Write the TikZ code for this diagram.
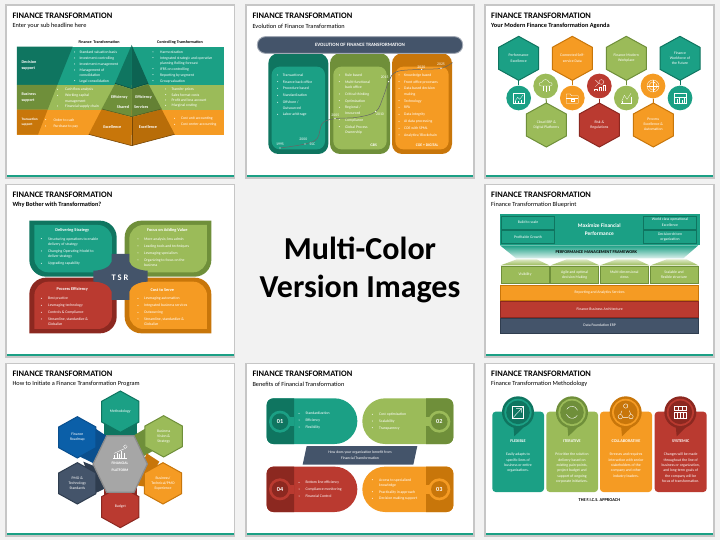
\documentclass[tikz,border=0pt]{standalone}
\usepackage{fontspec}
\setmainfont{Carlito}
\definecolor{tealM}{HTML}{1BA085}
\definecolor{tealD}{HTML}{0F7560}
\definecolor{grnM}{HTML}{9BBB59}
\definecolor{grnD}{HTML}{6F8F3A}
\definecolor{orgM}{HTML}{F59B23}
\definecolor{orgD}{HTML}{C8760A}
\definecolor{redM}{HTML}{BA3A30}
\definecolor{redD}{HTML}{8C2820}
\definecolor{navM}{HTML}{44546A}
\definecolor{navD}{HTML}{2F3D4F}
\definecolor{bluM}{HTML}{0B5FA8}
\definecolor{bluD}{HTML}{0A4F8E}
\definecolor{bgG}{HTML}{F2F2F2}
\newcounter{nn}
\tikzset{
 lbl/.style={text=white,inner sep=0pt,align=center,font=\fontsize{3.8}{5.3}\selectfont},
 bul/.style={text=white,inner sep=0pt,align=left,anchor=north west,yshift=1.8pt,font=\fontsize{3.8}{5.3}\selectfont},
 hdr/.style={lbl,font=\bfseries\fontsize{4.2}{5.6}\selectfont},
 blk/.style={lbl,text=black,font=\bfseries\fontsize{4.4}{5.6}\selectfont},
 ttl/.style={text=black,inner sep=0pt,anchor=west,font=\bfseries\fontsize{8.4}{10}\selectfont},
 sbt/.style={text=black,inner sep=0pt,anchor=west,font=\fontsize{6.3}{8}\selectfont},
 icon/.style={draw=white,line width=0.3pt,fill=none},
 zoomgrid/.style={x=0.33333pt,y=-0.33333pt},
}
\newcommand\Tx[4][]{\stepcounter{nn}\node[lbl,#1] (t\arabic{nn}) at (#2,#3) {#4};}
\newcommand\Bu[4]{\stepcounter{nn}\fill[white] (#1,#3) circle (0.5pt);\node[bul] (b\arabic{nn}) at (#2,#3) {\rule{0pt}{3pt}#4};}
% x0 y0 x1 y1 rTL rTR rBR rBL path-options
\newcommand\rrect[9]{\path[#9] (#1+#5,#2) -- (#3-#6,#2) .. controls (#3-0.45*#6,#2) and (#3,#2+0.45*#6) .. (#3,#2+#6) -- (#3,#4-#7) .. controls (#3,#4-0.45*#7) and (#3-0.45*#7,#4) .. (#3-#7,#4) -- (#1+#8,#4) .. controls (#1+0.45*#8,#4) and (#1,#4-0.45*#8) .. (#1,#4-#8) -- (#1,#2+#5) .. controls (#1,#2+0.45*#5) and (#1+0.45*#5,#2) .. (#1+#5,#2) -- cycle;}
% name cx cy hw hh fill dark
\newcommand\hexa[7]{\draw[fill=#6,draw=#7,line width=1pt,line join=miter] (#2,#3-#5) -- (#2+#4,#3-#5/2) -- (#2+#4,#3+#5/2) -- (#2,#3+#5) -- (#2-#4,#3+#5/2) -- (#2-#4,#3-#5/2) -- cycle;
 \coordinate (#1t) at (#2,#3-#5);\coordinate (#1b) at (#2,#3+#5);}
% panel: l t r b titleX titleY subY title sub
\newcommand\panel[9]{\fill[gray!45] (#1-5,#2-5) rectangle (#3+5,#4+5);\fill[white] (#1,#2) rectangle (#3,#4);\fill[tealM] (#1,#4-6) rectangle (#3,#4);
 \stepcounter{nn}\node[ttl] (h\arabic{nn}) at (#5,#6) {#8};\stepcounter{nn}\node[sbt] (s\arabic{nn}) at (#5,#7) {#9};}
% small circle-number of the benefit pills
\newcommand\numc[5]{\fill[#3] (#1,#2) circle (11pt);\stepcounter{nn}\node[circle,fill=#4,inner sep=0pt,minimum size=16.5pt,text=white,font=\bfseries\fontsize{6.2}{7}\selectfont] (c\arabic{nn}) at (#1,#2) {#5};}
\newcommand\pin[4]{\fill[#3] (#1,#2) circle (16pt);\fill[#3] (#1-14,#2+38) -- (#1+26,#2+36) -- (#1-11,#2+72) -- cycle;\fill[#4] (#1,#2) circle (13.6pt);\fill[#3] (#1,#2) circle (11.8pt);}
\begin{document}
\begin{tikzpicture}[x=1pt,y=-1pt]
\useasboundingbox (0,0) rectangle (720,540);
\fill[bgG] (0,0) rectangle (720,540);

%% ---------- 1
\begin{scope}[shift={(0,0)},zoomgrid]
\panel{21}{18}{701}{531}{37}{48}{78}{FINANCE TRANSFORMATION}{Enter your sub headline here}
\Tx[blk,font=\bfseries\fontsize{4.1}{5}\selectfont]{297}{126}{Finance\ \ Transformation}
\Tx[blk,font=\bfseries\fontsize{4.1}{5}\selectfont]{540}{126}{Controlling Transformation}
\fill[tealM] (51,140) rectangle (672,255);
\fill[grnM] (51,255) rectangle (672,329);
\fill[orgM] (51,329) rectangle (672,404);
\fill[tealD] (51,140) -- (218,140) -- (172,255) -- (51,255) -- cycle;
\fill[grnD] (51,255) -- (172,255) -- (143,329) -- (51,329) -- cycle;
\fill[orgD] (51,329) -- (143,329) -- (114,404) -- (51,404) -- cycle;
% pyramid
\fill[tealD] (395,135) -- (345,250) -- (395,266) -- cycle;
\fill[tealD!85!black] (395,135) -- (445,250) -- (395,266) -- cycle;
\fill[grnD] (345,252) -- (395,268) -- (395,350) -- (305,327) -- cycle;
\fill[grnD!90!black] (445,252) -- (395,268) -- (395,350) -- (485,327) -- cycle;
\fill[orgD] (305,328) -- (395,352) -- (395,437) -- (266,403) -- cycle;
\fill[orgD!92!black] (485,328) -- (395,352) -- (395,437) -- (524,403) -- cycle;
\draw[tealD!60!black,line width=0.5pt] (345,250) -- (395,266) -- (445,250);
\draw[grnD!60!black,line width=0.5pt] (305,327) -- (395,350) -- (485,327);
\draw[orgD!60!black,line width=0.6pt] (266,403) -- (395,437) -- (524,403);
\draw[orgD!60!black,line width=0.3pt] (395,352) -- (395,437);
\Tx[hdr]{358}{293}{Efficiency}\Tx[hdr]{431}{293}{Efficiency}
\Tx[hdr]{369}{321}{Shared}\Tx[hdr]{424}{321}{Services}
\Tx[hdr]{337}{381}{Excellence}\Tx[hdr]{444}{381}{Excellence}
\Tx[hdr,align=left,anchor=west,font=\bfseries\fontsize{4.2}{6}\selectfont]{64}{197}{Decision\\support}
\Tx[hdr,align=left,anchor=west,font=\bfseries\fontsize{4}{5.3}\selectfont]{64}{292}{Business\\support}
\Tx[hdr,align=left,anchor=west,font=\bfseries\fontsize{3.4}{4.8}\selectfont]{64}{367}{Transaction\\support}
\Bu{224}{238}{156}{Standard valuation basis}
\Bu{224}{238}{174}{Investment controlling}
\Bu{224}{238}{192}{Investment management}
\Bu{224}{238}{210}{Management of\\consolidation}
\Bu{224}{238}{242}{Legal consolidation}
\Bu{459}{480}{156}{Harmonization}
\Bu{459}{480}{173}{Integrated strategic and operative\\planning Rolling forecast}
\Bu{459}{480}{206}{IFRS on controlling}
\Bu{459}{480}{224}{Reporting by segment}
\Bu{459}{480}{242}{Group valuation}
\Bu{173}{195}{268}{Cash flow analysis}
\Bu{173}{195}{286}{Working capital\\management}
\Bu{173}{195}{318}{Financial supply chain}
\Bu{497}{514}{267}{Transfer prices}
\Bu{497}{514}{284}{Sales format costs}
\Bu{497}{514}{300}{Profit and loss account}
\Bu{497}{514}{316}{Marginal costing}
\Bu{137}{160}{359}{Order to cash}
\Bu{137}{160}{378}{Purchase to pay}
\Bu{524}{543}{355}{Cost unit accounting}
\Bu{524}{543}{373}{Cost center accounting}
\end{scope}

%% ---------- 2
\begin{scope}[shift={(240,0)},zoomgrid]
\panel{21}{18}{700}{531}{37}{48}{78}{FINANCE TRANSFORMATION}{Evolution of Finance Transformation}
\rrect{85}{160}{265}{462}{30}{30}{30}{30}{fill=tealD}
\rrect{270}{160}{450}{462}{30}{30}{30}{30}{fill=grnD}
\rrect{456}{160}{636}{462}{30}{30}{30}{30}{fill=orgD}
\rrect{95}{200}{255}{448}{24}{24}{24}{24}{fill=tealM}
\rrect{280}{200}{440}{448}{24}{24}{24}{24}{fill=grnM}
\rrect{466}{200}{626}{448}{24}{24}{24}{24}{fill=orgM}
\rrect{52}{110}{668}{160}{24}{24}{24}{24}{fill=navM,draw=navM!50!white,line width=0.9pt}
\Tx[hdr,font=\bfseries\fontsize{4.9}{6}\selectfont]{360}{135}{EVOLUTION OF FINANCE TRANSFORMATION}
\Bu{113}{128}{225}{Transactional}
\Bu{113}{128}{245}{Finance back office}
\Bu{113}{128}{265}{Procedure based}
\Bu{113}{128}{286}{Standardization}
\Bu{113}{128}{307}{Offshore /\\Outsourced}
\Bu{113}{128}{343}{Labor arbitrage}
\Bu{298}{315}{225}{Rule based}
\Bu{298}{315}{245}{Multi-functional\\back office}
\Bu{298}{315}{282}{Critical thinking}
\Bu{298}{315}{302}{Optimization}
\Bu{298}{315}{322}{Regional /\\Insourced}
\Bu{298}{315}{359}{Compliance}
\Bu{298}{315}{380}{Global Process\\Ownership}
\Bu{477}{492}{225}{Knowledge based}
\Bu{477}{492}{245}{Front office processes}
\Bu{477}{492}{265}{Data based decision\\making}
\Bu{477}{492}{302}{Technology}
\Bu{477}{492}{322}{RPA}
\Bu{477}{492}{343}{Data integrity}
\Bu{477}{492}{364}{AI data processing}
\Bu{477}{492}{385}{COE with SPML}
\Bu{477}{492}{405}{Analytics/ Blockchain}
\draw[gray!80!black,line width=0.5pt] plot[smooth,tension=0.6] coordinates {(120,444) (195,432) (232,415) (247,370) (285,356) (350,352) (407,335) (430,290) (446,245) (470,215) (545,208) (603,205) (638,188)};
\foreach \px/\py in {120/444,195/432,285/356,407/335,446/245,545/208,603/205}{\fill[white] (\px,\py) circle (0.7pt);}
\Tx{120}{434}{1995}\Tx{190}{419}{2000}\Tx{217}{432}{SSC}\Tx{286}{346}{2005}\Tx{420}{343}{2010}\Tx{434}{231}{2015}\Tx{544}{201}{2020}\Tx{603}{193}{2025}
\Tx[font=\bfseries\fontsize{3.8}{5}\selectfont]{401}{435}{GBS}
\Tx[font=\bfseries\fontsize{3.8}{5}\selectfont]{561}{435}{COE + DIGITAL}
\end{scope}

%% ---------- 3
\begin{scope}[shift={(480,0)},zoomgrid]
\panel{17}{18}{700}{531}{33}{48}{78}{FINANCE TRANSFORMATION}{\bfseries Your Modern Finance Transformation Agenda}
\hexa{ha}{116}{175}{60}{66}{tealM}{tealD}
\hexa{hb}{277}{175}{60}{66}{orgM}{orgD}
\hexa{hc}{439}{175}{60}{66}{grnM}{grnD}
\hexa{hd}{600}{175}{60}{66}{tealM}{tealD}
\hexa{he}{199}{375}{60}{66}{grnM}{grnD}
\hexa{hf}{358}{375}{60}{66}{redM}{redD}
\hexa{hg}{520}{375}{60}{66}{orgM}{orgD}
\tikzset{cir/.style={circle,inner sep=0pt,minimum size=24.7pt,fill=#1}}
\node[cir=tealM] (ca) at (116,294) {};
\node[cir=orgM] (cb) at (277,294) {};
\node[cir=grnM] (cc) at (439,294) {};
\node[cir=tealM] (cd) at (600,294) {};
\node[cir=grnM] (ce) at (197,258) {};
\node[cir=redM] (cf) at (358,258) {};
\node[cir=orgM] (cg) at (519,258) {};
\draw[tealD,line width=1pt] (hab) -- (ca);
\draw[orgD,line width=1pt] (hbb) -- (cb);
\draw[grnD,line width=1pt] (hcb) -- (cc);
\draw[tealD,line width=1pt] (hdb) -- (cd);
\draw[grnD,line width=1pt] (het) -- (ce);
\draw[redD,line width=1pt] (hft) -- (cf);
\draw[orgD,line width=1pt] (hgt) -- (cg);
\Tx{116}{175}{Performance\\Excellence}
\Tx{277}{175}{Connected Self-\\service Data}
\Tx{439}{175}{Finance Modern\\Workplace}
\Tx{600}{175}{Finance\\Workforce of\\the Future}
\Tx{199}{375}{Cloud ERP \&\\Digital Platforms}
\Tx{358}{375}{Risk \&\\Regulations}
\Tx{520}{373}{Process\\Excellence \&\\Automation}
\begin{scope}[shift={(116,294)},icon]
\draw[icon] (-16,-14) rectangle (16,16);\draw[icon] (-11,9) -- (-3,-2) -- (3,4) -- (13,-9);\draw[icon] (-10,16) -- (-10,10) (-2,16) -- (-2,8) (6,16) -- (6,6);
\end{scope}
\begin{scope}[shift={(197,256)}]
\draw[icon] (-13,2) .. controls (-23,2) and (-21,-11) .. (-11,-9) .. controls (-9,-20) and (8,-20) .. (10,-9) .. controls (21,-11) and (23,2) .. (13,2) -- cycle;
\draw[icon] (-9,2) -- (-9,16) (0,2) -- (0,20) (9,2) -- (9,16);
\end{scope}
\begin{scope}[shift={(277,294)}]
\draw[icon] (-18,-12) -- (-6,-12) -- (-3,-7) -- (18,-7) -- (18,16) -- (-18,16) -- cycle;\draw[icon] (-18,-1) -- (18,-1);\draw[icon] (-5,3) rectangle (5,9);
\end{scope}
\begin{scope}[shift={(358,258)}]
\draw[icon] (-16,16) -- (-16,8) -- (-8,8) -- (-8,16) (-2,16) -- (-2,2) -- (6,2) -- (6,16) (10,16) -- (10,-4) -- (16,-4) -- (16,16);
\draw[icon] (-12,-18) -- (-2,-8) -- (-12,2);\draw[icon] (6,-12) circle (2.4pt);
\end{scope}
\begin{scope}[shift={(439,294)}]
\draw[icon] (-16,16) -- (18,16);\draw[icon] (-14,10) -- (-6,-8) -- (2,4) -- (14,-14);\draw[icon] (-14,10) -- (-14,16) (14,-4) -- (14,16);
\end{scope}
\begin{scope}[shift={(519,258)}]
\draw[icon] (0,0) circle (6pt);\draw[icon,dash pattern=on 0.7pt off 0.7pt,line width=0.7pt] (0,0) circle (4pt);\draw[icon] (-17,0) -- (17,0) (0,-17) -- (0,17);
\end{scope}
\begin{scope}[shift={(600,294)}]
\draw[icon] (-17,-14) rectangle (17,16);\draw[icon] (-17,-4) -- (17,-4);\draw[icon] (-9,16) -- (-9,3) (-2,16) -- (-2,-1) (5,16) -- (5,5) (11,16) -- (11,-1);
\end{scope}
\end{scope}

%% ---------- 4
\begin{scope}[shift={(0,180)},zoomgrid]
\panel{21}{16}{701}{528}{37}{45}{75}{FINANCE TRANSFORMATION}{\bfseries Why Bother with Transformation?}
\rrect{88}{122}{350}{290}{0}{50}{0}{50}{fill=tealD}
\rrect{103}{135}{336}{277}{0}{42}{0}{42}{fill=tealM}
\rrect{374}{122}{634}{290}{50}{0}{50}{0}{fill=grnD}
\rrect{388}{135}{621}{277}{42}{0}{42}{0}{fill=grnM}
\rrect{88}{293}{350}{460}{50}{0}{50}{0}{fill=redD}
\rrect{103}{305}{336}{447}{42}{0}{42}{0}{fill=redM}
\rrect{374}{293}{634}{460}{0}{50}{0}{50}{fill=orgD}
\rrect{388}{305}{621}{447}{0}{42}{0}{42}{fill=orgM}
\fill[navM] (335,222) -- (388,222) -- (388,245) .. controls (392,262) and (420,272) .. (443,272) -- (443,305) .. controls (420,305) and (392,315) .. (388,335) -- (388,360) -- (335,360) -- (335,335) .. controls (330,315) and (305,305) .. (280,305) -- (280,272) .. controls (305,272) and (330,262) .. (335,245) -- cycle;
\Tx[font=\bfseries\fontsize{8.5}{10}\selectfont]{360}{292}{T S R}
\Tx[hdr,font=\bfseries\fontsize{4.3}{5}\selectfont]{217}{151}{Delivering Strategy}
\Bu{124}{144}{176}{Structuring operations to enable\\delivery of strategy}
\Bu{124}{144}{213}{Changing Operating Model to\\deliver strategy}
\Bu{124}{144}{250}{Upgrading capability}
\Tx[hdr,font=\bfseries\fontsize{4.3}{5}\selectfont]{502}{151}{Focus on Adding Value}
\Bu{414}{432}{177}{More analysis; less admin}
\Bu{414}{432}{198}{Leading tools and techniques}
\Bu{414}{432}{219}{Leveraging specialism}
\Bu{414}{432}{240}{Organizing to focus on the\\business}
\Tx[hdr,font=\bfseries\fontsize{4.3}{5}\selectfont]{217}{329}{Process Efficiency}
\Bu{124}{144}{355}{Best practice}
\Bu{124}{144}{376}{Leveraging technology}
\Bu{124}{144}{397}{Controls \& Compliance}
\Bu{124}{144}{417}{Streamline, standardize \&\\Globalize}
\Tx[hdr,font=\bfseries\fontsize{4.3}{5}\selectfont]{487}{329}{Cost to Serve}
\Bu{414}{432}{355}{Leveraging automation}
\Bu{414}{432}{376}{Integrated business services}
\Bu{414}{432}{397}{Outsourcing}
\Bu{414}{432}{417}{Streamline, standardize \&\\Globalize}
\end{scope}

%% ---------- center
\node[inner sep=0pt,text=black,font=\bfseries\fontsize{32}{38}\selectfont,align=center] (bigtext) at (360,270) {Multi-Color\\Version Images};

%% ---------- 6
\begin{scope}[shift={(480,180)},zoomgrid]
\panel{17}{16}{700}{528}{33}{45}{75}{FINANCE TRANSFORMATION}{Finance Transformation Blueprint}
\fill[tealM] (60,102) rectangle (660,194);
\tikzset{tbox/.style={fill=tealM,draw=tealD,line width=0.9pt}}
\draw[tbox] (65,108) rectangle (224,147);\draw[tbox] (65,152) rectangle (224,191);
\draw[tbox] (490,108) rectangle (650,147);\draw[tbox] (490,152) rectangle (650,191);
\Tx{144}{127}{Build to scale}\Tx{144}{171}{Profitable Growth}
\Tx{570}{127}{World class operational\\Excellence}\Tx{570}{171}{Decision-driven\\organization}
\Tx[font=\bfseries\fontsize{5.4}{8}\selectfont]{358}{149}{Maximize Financial\\Performance}
\shade[top color=tealM,bottom color=tealM!15!white] (60,196) -- (655,196) -- (610,235) -- (108,235) -- cycle;
\Tx[blk,font=\bfseries\fontsize{4.3}{5}\selectfont]{349}{216}{PERFORMANCE MANAGEMENT FRAMEWORK}
\foreach \xa/\xb/\xc/\xd in {62/110/170/208,212/260/320/358,360/410/470/508,512/560/620/655}{\shade[top color=grnM!35!white,bottom color=grnM] (\xa,256) -- (\xb,238) -- (\xc,238) -- (\xd,256) -- cycle;}
\tikzset{gbox/.style={fill=grnM,draw=grnD,line width=0.9pt}}
\draw[gbox] (63,258) rectangle (207,311);\draw[gbox] (212,258) rectangle (356,311);\draw[gbox] (360,258) rectangle (506,311);\draw[gbox] (511,258) rectangle (654,311);
\Tx{135}{284}{Visibility}\Tx{284}{284}{Agile and optimal\\decision Making}\Tx{433}{284}{Multi-dimensional\\views}\Tx{582}{284}{Scalable and\\flexible structure}
\draw[fill=orgM,draw=orgD,line width=0.9pt] (62,316) rectangle (656,360);
\draw[fill=redM,draw=redD,line width=0.9pt] (62,364) rectangle (656,411);
\draw[fill=navM,draw=navD,line width=0.9pt] (62,415) rectangle (656,461);
\Tx{359}{338}{Reporting and Analytics Services}
\Tx{359}{387}{Finance Business Architecture}
\Tx{359}{437}{Data Foundation ERP}
\end{scope}

%% ---------- 7
\begin{scope}[shift={(0,360)},zoomgrid]
\panel{21}{13}{701}{525}{37}{42}{72}{FINANCE TRANSFORMATION}{How to Initiate a Finance Transformation Program}
\fill[tealD] (312,190) rectangle (410,240);
\fill[grnD] (402,226) -- (437,205) -- (472,265) -- (425,292) -- cycle;
\fill[orgD] (440,280) -- (478,305) -- (436,380) -- (403,375) -- cycle;
\fill[redD] (312,375) rectangle (410,412);
\fill[navD] (250,305) -- (282,318) -- (322,382) -- (285,400) -- cycle;
\fill[bluD] (285,205) -- (320,228) -- (285,312) -- (240,290) -- cycle;
\hexa{m1}{361}{155}{56}{62}{tealM}{tealD}
\hexa{m2}{491}{229}{56}{62}{grnM}{grnD}
\hexa{m3}{489}{370}{56}{62}{orgM}{orgD}
\hexa{m4}{361}{441}{56}{62}{redM}{redD}
\hexa{m5}{232}{370}{56}{62}{navM}{navD}
\hexa{m6}{232}{232}{56}{62}{bluM}{bluD}
\draw[fill=gray!70,draw=gray!90,line width=1.2pt,line join=miter] (279,312) -- (320,227) -- (402,227) -- (442,312) -- (402,397) -- (320,397) -- cycle;
\Tx{361}{155}{Methodology}
\Tx{491}{229}{Business\\Vision \&\\Strategy}
\Tx{489}{370}{Business/\\Technical/PMO\\Experience}
\Tx{361}{441}{Budget}
\Tx{232}{370}{PMO \&\\Technology\\Standards}
\Tx{232}{232}{Finance\\Roadmap}
\Tx[hdr,font=\bfseries\fontsize{3.7}{7}\selectfont]{360}{320}{FINANCIAL\\PLATFORM}
\begin{scope}[shift={(360,280)}]
\draw[icon,line width=0.4pt] (-20,14) -- (20,14) (-16,14) -- (-16,4) (-9,14) -- (-9,-2) (-2,14) -- (-2,3) (5,14) -- (5,-6) (12,14) -- (12,-2);
\draw[icon,line width=0.4pt] (-18,0) -- (-4,-6) -- (4,-10) -- (14,-14);
\draw[icon] (16,-20) circle (1.8pt);
\end{scope}
\end{scope}

%% ---------- 8
\begin{scope}[shift={(240,360)},zoomgrid]
\panel{21}{13}{700}{525}{37}{42}{72}{FINANCE TRANSFORMATION}{Benefits of Financial Transformation}
\rrect{80}{115}{352}{252}{20}{68}{68}{20}{fill=tealM}
\rrect{80}{115}{162}{252}{20}{0}{0}{20}{fill=tealD}
\fill[tealM] (120,172) rectangle (162,198);
\numc{120}{185}{tealM}{tealD}{01}
\rrect{367}{115}{640}{252}{68}{20}{20}{68}{fill=grnM}
\rrect{558}{115}{640}{252}{0}{20}{20}{0}{fill=grnD}
\fill[grnM] (558,172) rectangle (598,198);
\numc{598}{185}{grnM}{grnD}{02}
\rrect{80}{320}{352}{456}{20}{68}{68}{20}{fill=redM}
\rrect{80}{320}{162}{456}{20}{0}{0}{20}{fill=redD}
\fill[redM] (120,375) rectangle (162,401);
\numc{120}{388}{redM}{redD}{04}
\rrect{367}{320}{640}{456}{68}{20}{20}{68}{fill=orgM}
\rrect{558}{320}{640}{456}{0}{20}{20}{0}{fill=orgD}
\fill[orgM] (558,375) rectangle (598,401);
\numc{598}{388}{orgM}{orgD}{03}
\fill[navM] (200,258) -- (532,258) -- (520,314) -- (188,314) -- cycle;
\Tx[font=\fontsize{3.8}{5.4}\selectfont]{360}{286}{How does your organization benefit from\\Financial Transformation}
\Bu{177}{196}{160}{Standardization}
\Bu{177}{196}{180}{Efficiency}
\Bu{177}{196}{201}{Flexibility}
\Bu{397}{417}{163}{Cost optimization}
\Bu{397}{417}{183}{Scalability}
\Bu{397}{417}{203}{Transparency}
\Bu{177}{196}{367}{Bottom line efficiency}
\Bu{177}{196}{387}{Compliance monitoring}
\Bu{177}{196}{408}{Financial Control}
\Bu{397}{417}{359}{Access to specialized\\knowledge}
\Bu{397}{417}{395}{Practicality in approach}
\Bu{397}{417}{415}{Decision making support}
\end{scope}

%% ---------- 9
\begin{scope}[shift={(480,360)},zoomgrid]
\panel{17}{13}{700}{525}{33}{42}{72}{FINANCE TRANSFORMATION}{Finance Transformation Methodology}
\rrect{37}{155}{192}{396}{10}{10}{10}{10}{fill=tealM}
\rrect{199}{155}{354}{396}{10}{10}{10}{10}{fill=grnM}
\rrect{360}{155}{516}{396}{10}{10}{10}{10}{fill=orgM}
\rrect{524}{155}{680}{396}{10}{10}{10}{10}{fill=redM}
\pin{114}{157}{tealD}{tealM}
\pin{276}{157}{grnD}{grnM}
\pin{437}{157}{orgD}{orgM}
\pin{601}{157}{redD}{redM}
\draw[icon,line width=0.4pt] (98,140) rectangle (130,174);\draw[icon,line width=0.4pt] (98,174) -- (130,140) (108,146) -- (124,146) -- (124,158);
\draw[icon,line width=0.4pt] (260.4,148) arc (150:20:6pt);
\draw[icon,line width=0.4pt] (291.6,166) arc (-30:-160:6pt);
\draw[icon,line width=0.4pt] (437,138) circle (2.2pt) (421,170) circle (2.2pt) (453,170) circle (2.2pt);
\draw[icon,line width=0.4pt] (426,152) -- (422,162) (448,152) -- (452,162) (429,172) -- (445,172);
\draw[icon,line width=0.4pt] (584,138) rectangle (618,152);\draw[icon,line width=0.4pt] (584,156) rectangle (618,176);\draw[icon,line width=0.4pt] (595,138) -- (595,152) (607,138) -- (607,152) (592,156) -- (592,176) (601,156) -- (601,176) (610,156) -- (610,176);
\Tx[hdr]{114}{244}{FLEXIBLE}\Tx[hdr]{276}{244}{ITERATIVE}\Tx[hdr]{438}{244}{COLLABORATIVE}\Tx[hdr]{602}{244}{SYSTEMIC}
\Tx[anchor=north]{114}{279}{Easily adapts to\\specific lines of\\business or entire\\organizations.}
\Tx[anchor=north]{276}{279}{Prioritize the solution\\delivery based on\\existing pain-points,\\project budget and\\support of ongoing\\corporate initiatives.}
\Tx[anchor=north]{438}{279}{Stresses and requires\\interaction with senior\\stakeholders of the\\company and other\\industry leaders.}
\Tx[anchor=north]{602}{279}{Changes will be made\\throughout the line of\\business or organization,\\and long-term goals of\\the company will be\\focus of transformation.}
\Tx[blk]{358}{420}{THE F.I.C.S. APPROACH}
\end{scope}
\end{tikzpicture}
\end{document}
